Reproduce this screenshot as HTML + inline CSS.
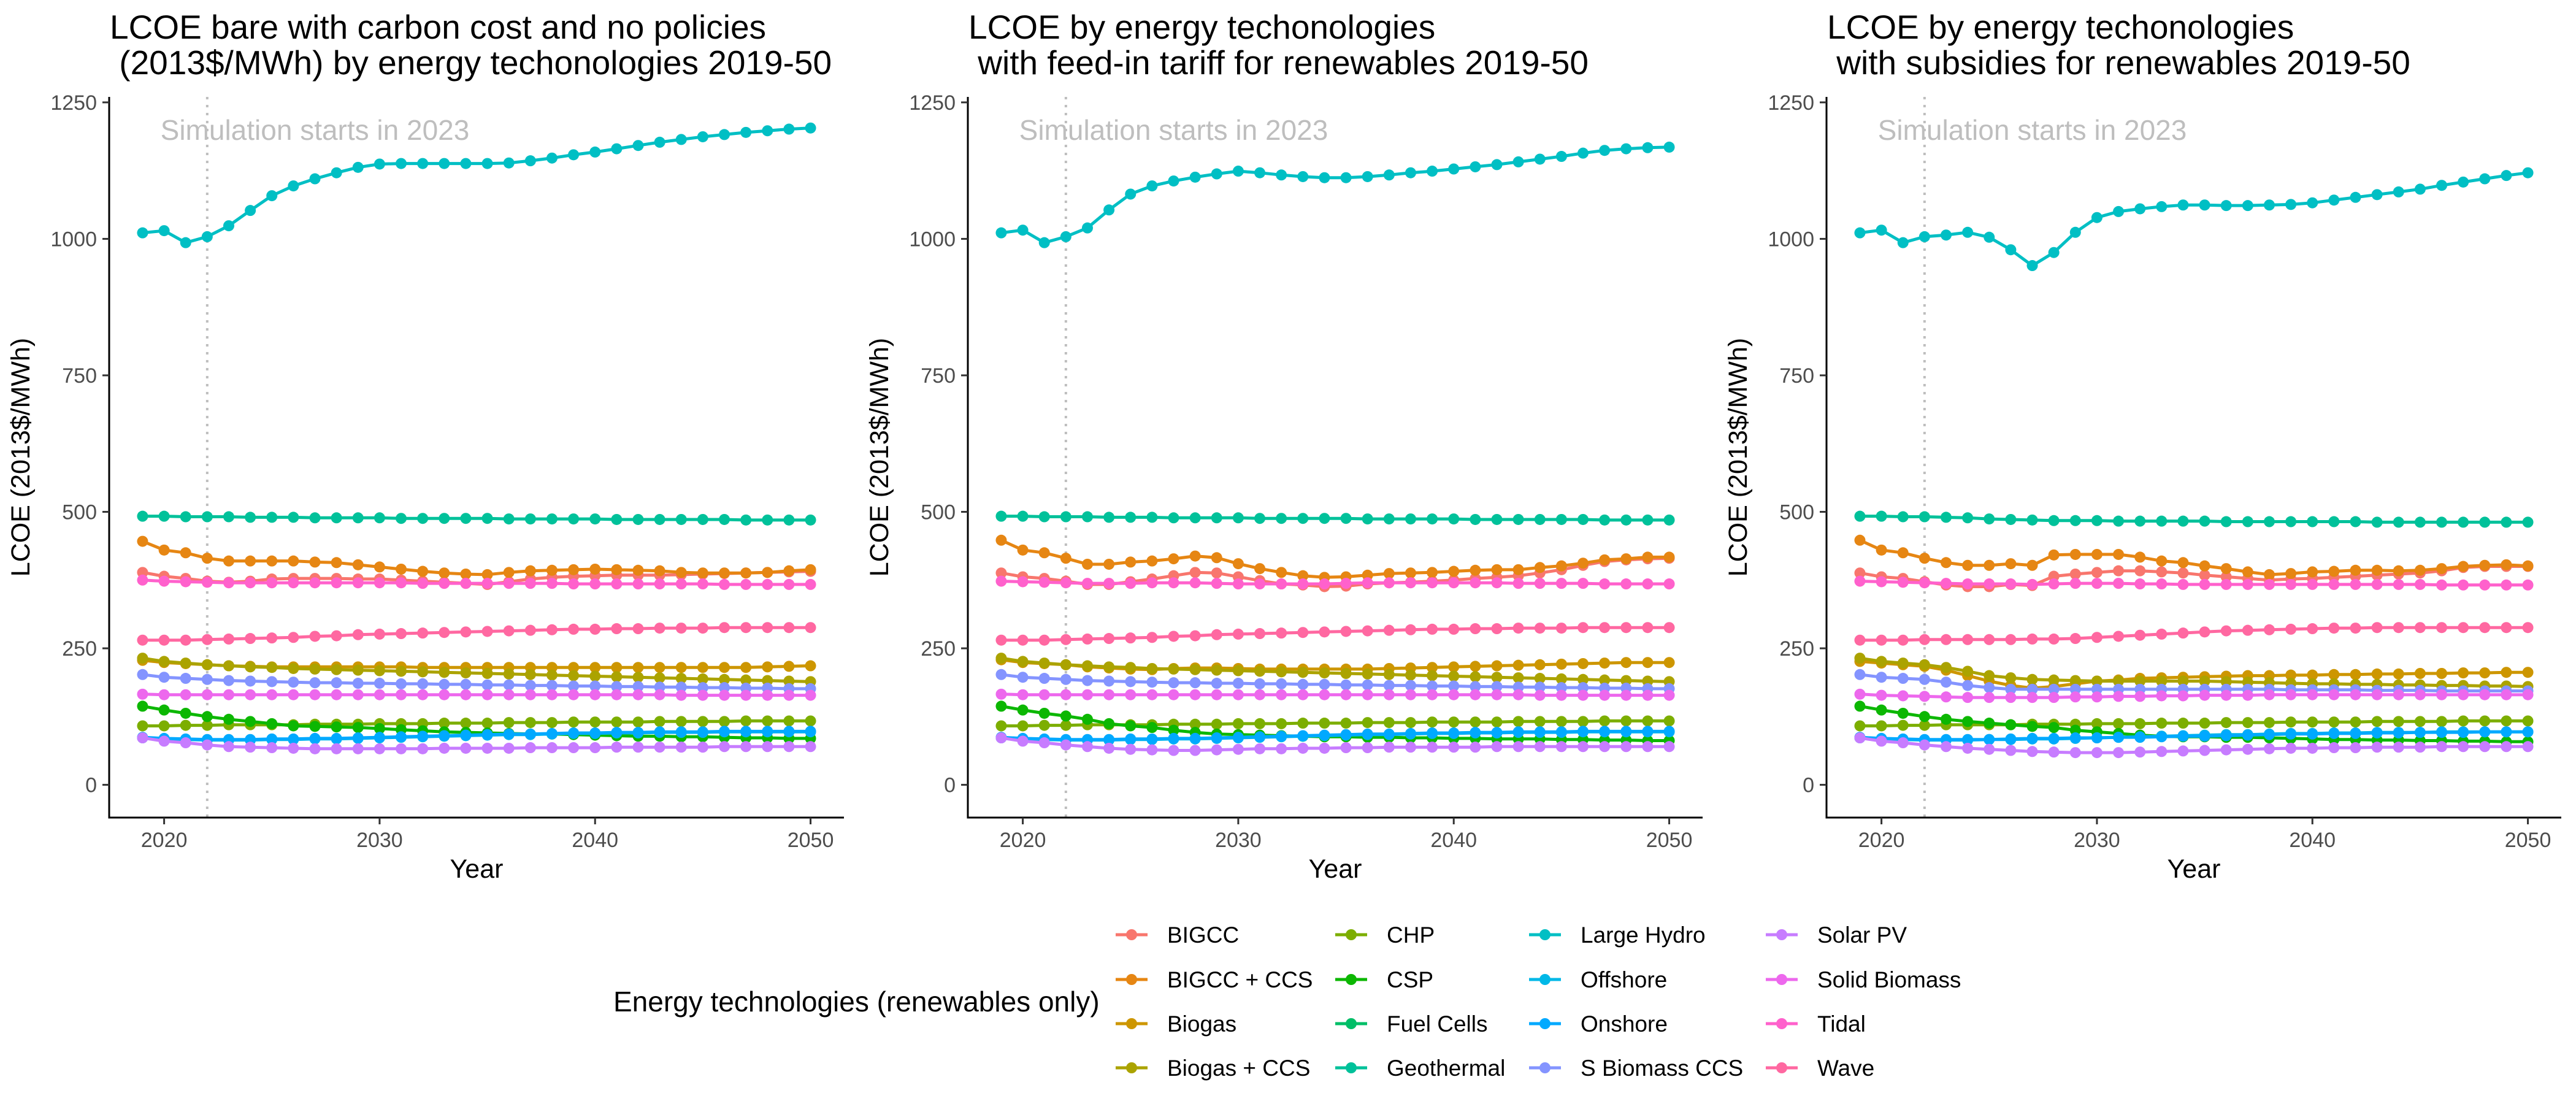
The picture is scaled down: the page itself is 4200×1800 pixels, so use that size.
<!DOCTYPE html>
<html><head><meta charset="utf-8">
<style>
html,body{margin:0;padding:0;background:#fff;}
svg{display:block;font-family:"Liberation Sans",Arial,sans-serif;}
</style></head>
<body>
<svg id="chart" width="4200" height="1800" viewBox="0 0 4200 1800" xmlns="http://www.w3.org/2000/svg"></svg>
<script>
const years = [];
for (let y = 2019; y <= 2050; y++) years.push(y);
const seriesNames = ["BIGCC","BIGCC + CCS","Biogas","Biogas + CCS","CHP","CSP","Fuel Cells","Geothermal","Large Hydro","Offshore","Onshore","S Biomass CCS","Solar PV","Solid Biomass","Tidal","Wave"];
const seriesColors = ["#F8766D","#E68613","#CD9600","#ABA300","#7CAE00","#0CB702","#00BE67","#00C19A","#00BFC4","#00B8E7","#00A9FF","#8494FF","#C77CFF","#ED68ED","#FF61CC","#FF68A1"];
const yTicks = [0,250,500,750,1000,1250];
const xTicks = [2020,2030,2040,2050];
const panelTitles = [
  ["LCOE bare with carbon cost and no policies"," (2013$/MWh) by energy techonologies 2019-50"],
  ["LCOE by energy techonologies"," with feed-in tariff for renewables 2019-50"],
  ["LCOE by energy techonologies"," with subsidies for renewables 2019-50"]
];
const geoP1 = [492,492,491,491,491,490,490,490,489,489,489,489,488,488,488,488,488,487,487,487,487,487,486,486,486,486,486,486,485,485,485,485];
const geoP3 = [492,492,491,491,490,489,487,486,485,484,484,484,483,483,483,483,483,482,482,482,482,482,482,482,481,481,481,481,481,481,481,481];
const waveP1 = [265,265,265,266,267,268,269,270,272,273,275,276,277,278,279,280,281,282,283,284,285,285,286,286,287,287,287,288,288,288,288,288];
const waveP3 = [265,265,265,266,266,266,266,266,267,267,268,270,272,274,276,278,280,282,283,284,285,286,287,287,288,288,288,288,288,288,288,288];
const tidalP1 = [375,373,372,371,370,370,370,370,370,370,370,370,370,369,369,369,369,369,369,369,368,368,368,368,368,368,368,367,367,367,367,367];
const tidalP2 = [373,372,371,370,369,369,369,370,370,370,369,368,368,368,368,368,369,370,370,370,370,370,370,370,369,369,369,369,368,368,368,368];
const tidalP3 = [373,372,371,370,369,368,368,368,367,368,369,369,369,368,368,367,367,367,367,367,367,367,367,367,367,367,367,366,366,366,366,366];
const chp = [108,108,109,109,110,110,110,110,111,111,111,112,112,112,113,113,113,114,114,114,115,115,115,115,116,116,116,116,117,117,117,117];
const onshore = [87,85,84,83,83,83,84,84,85,85,86,87,88,89,90,91,92,93,93,94,95,95,96,96,97,97,97,98,98,98,98,98];
const onshoreP3 = [87,85,84,83,83,83,83,84,85,85,86,86,87,87,88,89,89,90,91,92,93,93,94,94,95,95,96,96,96,97,97,97];
const offshore = [86,84,83,82,82,82,83,83,84,84,85,86,87,88,89,90,91,92,92,93,94,94,95,95,96,96,96,97,97,97,97,97];
const sbioP12 = [202,197,195,193,191,190,189,188,187,187,186,186,185,185,184,184,183,183,182,182,181,181,180,180,179,179,178,178,177,177,176,176];
const sbioP3 = [202,197,195,193,188,182,178,175,175,175,175,175,175,175,175,175,175,175,175,175,174,174,174,174,173,173,173,172,172,172,172,172];
const solidP1 = [166,165,165,165,165,165,165,165,165,165,165,165,165,165,165,165,165,165,165,165,165,165,165,165,165,164,164,164,164,164,164,164];
const solidP3 = [166,164,163,162,161,160,160,160,160,160,161,161,162,162,163,163,164,164,164,165,165,165,165,165,165,165,165,165,165,165,165,165];
const bccsP12 = [232,226,223,220,218,216,215,213,212,211,210,209,208,207,206,205,204,203,202,201,200,199,198,197,196,195,194,193,192,191,190,189];
const bccsP3 = [232,226,223,220,215,208,200,196,193,192,191,190,190,190,190,190,190,189,188,187,186,185,185,184,184,183,183,182,182,181,181,180];
const hydroP1 = [1011,1015,993,1004,1024,1052,1079,1097,1110,1121,1131,1137,1138,1138,1138,1138,1138,1139,1143,1148,1154,1159,1165,1171,1177,1182,1187,1191,1195,1198,1201,1203];
const hydroP2 = [1011,1016,993,1004,1020,1053,1082,1097,1106,1113,1119,1124,1121,1117,1114,1112,1112,1114,1117,1121,1124,1128,1132,1136,1141,1146,1151,1157,1162,1165,1167,1168];
const hydroP3 = [1011,1016,993,1004,1007,1012,1003,980,951,975,1012,1039,1050,1055,1059,1062,1062,1061,1061,1062,1063,1066,1071,1076,1081,1086,1091,1098,1104,1110,1116,1121];
const bigccsP1 = [446,430,425,415,410,410,410,410,408,407,403,399,395,391,388,386,385,389,392,393,394,395,394,393,392,389,388,388,388,389,392,394];
const bigccsP2 = [448,430,425,415,404,404,408,410,414,419,416,405,396,389,383,380,381,384,387,388,389,391,393,394,394,398,401,406,412,414,417,417];
const bigccsP3 = [448,430,425,415,407,402,402,405,402,421,422,422,422,417,410,407,401,396,390,385,387,390,391,393,393,392,393,396,400,402,403,401];
const bigccP1 = [389,382,378,373,371,373,377,378,378,378,377,377,375,373,371,369,367,372,377,380,382,383,384,384,384,385,386,387,388,389,390,391];
const bigccP2 = [388,381,378,373,367,367,372,377,383,389,388,381,374,368,366,363,364,368,370,371,373,375,378,380,383,388,394,402,409,412,414,415];
const bigccP3 = [388,381,378,372,366,363,363,367,365,382,386,389,392,392,390,388,384,381,378,375,377,378,380,382,384,386,388,392,398,400,400,400];
const biogasP1 = [228,224,222,220,218,217,216,216,216,216,216,216,216,215,215,215,215,215,215,215,215,215,215,215,215,215,215,215,215,216,217,218];
const biogasP2 = [229,224,222,220,216,214,212,211,213,214,214,213,212,212,212,212,212,212,213,214,215,216,217,218,219,220,221,222,223,224,224,224];
const biogasP3 = [226,223,220,217,210,200,190,182,177,180,185,190,192,195,196,197,198,199,200,200,201,201,202,202,203,203,204,204,205,205,206,206];
const cspP1 = [144,137,131,125,120,116,112,108,107,106,105,103,101,99,97,96,95,94,93,93,92,91,90,89,89,88,88,87,86,86,85,85];
const cspP2 = [144,137,131,126,120,112,108,105,100,96,93,92,91,90,89,88,88,87,87,86,86,85,85,84,84,84,83,83,82,82,81,81];
const cspP3 = [144,137,131,125,120,116,113,110,107,105,100,97,94,91,89,88,88,87,87,86,85,84,83,83,82,82,81,81,80,80,79,79];
const solarP1 = [86,80,77,73,70,69,68,67,66,66,66,66,66,66,67,67,67,67,68,68,68,68,69,69,69,69,69,70,70,70,70,70];
const solarP2 = [86,80,77,73,70,67,65,64,63,63,64,65,66,66,67,67,68,68,69,69,69,69,69,70,70,70,70,70,70,70,70,70];
const solarP3 = [86,80,77,73,70,67,65,63,61,60,59,59,59,60,61,62,63,64,65,66,67,67,68,68,69,69,69,70,70,70,70,70];

const panelData = [
  [bigccP1,bigccsP1,biogasP1,bccsP12,chp,cspP1,null,geoP1,hydroP1,offshore,onshore,sbioP12,solarP1,solidP1,tidalP1,waveP1],
  [bigccP2,bigccsP2,biogasP2,bccsP12,chp,cspP2,null,geoP1,hydroP2,offshore,onshore,sbioP12,solarP2,solidP1,tidalP2,waveP1],
  [bigccP3,bigccsP3,biogasP3,bccsP3,chp,cspP3,null,geoP3,hydroP3,offshore,onshoreP3,sbioP3,solarP3,solidP3,tidalP3,waveP3]
];

const NS = "http://www.w3.org/2000/svg";
const svg = document.getElementById("chart");
function mk(tag, attrs, parent) {
  const e = document.createElementNS(NS, tag);
  for (const k in attrs) e.setAttribute(k, attrs[k]);
  (parent || svg).appendChild(e);
  return e;
}
const X0 = 178, X1 = 1376, YTOP = 158, YBOT = 1333;
const xMin = 2017.45, xMax = 2051.55, yMin = -60, yMax = 1260;
const panelNames = ["no-policies","feed-in-tariff","subsidies"];

for (let p = 0; p < 3; p++) {
  const off = p * 1400;
  const xs = v => off + X0 + (v - xMin) / (xMax - xMin) * (X1 - X0);
  const ys = v => YBOT - (v - yMin) / (yMax - yMin) * (YBOT - YTOP);
  const g = mk("g", {});
  
  

  const t = mk("text", {x: off + 179, y: 63, "font-size": 55, fill: "#000"}, g);
  
  
  t.style.whiteSpace = 'pre';
  const t1 = mk("tspan", {x: off + 179, y: 63}, t); t1.textContent = panelTitles[p][0];
  const t2 = mk("tspan", {x: off + 179, y: 121}, t); t2.textContent = panelTitles[p][1];

  const vl = mk("line", {x1: xs(2022), x2: xs(2022), y1: YTOP, y2: YBOT, stroke: "#BEBEBE", "stroke-width": 4, "stroke-dasharray": "4 9"}, g);
  
  
  const ann = mk("text", {x: xs(2027), y: 228, "font-size": 46, fill: "#BEBEBE", "text-anchor": "middle"}, g);
  
  
  ann.textContent = "Simulation starts in 2023";

  const data = panelData[p];
  for (let s = 0; s < seriesNames.length; s++) {
    const vals = data[s];
    if (!vals) continue;
    const sg = mk("g", {}, g);
    
    
    const pts = vals.map((v, i) => xs(years[i]).toFixed(1) + "," + ys(v).toFixed(1)).join(" ");
    const pl = mk("polyline", {points: pts, fill: "none", stroke: seriesColors[s], "stroke-width": 5, "stroke-linejoin": "round"}, sg);
    
    
    vals.forEach((v, i) => {
      const c = mk("circle", {cx: xs(years[i]), cy: ys(v), r: 9, fill: seriesColors[s]}, sg);
      
      
    });
  }

  const ya = mk("line", {x1: off + X0, x2: off + X0, y1: YTOP, y2: YBOT + 1.5, stroke: "#000", "stroke-width": 3}, g);
  
  
  const xa = mk("line", {x1: off + X0 - 1.5, x2: off + X1, y1: YBOT, y2: YBOT, stroke: "#000", "stroke-width": 3}, g);
  
  
  yTicks.forEach(v => {
    const tk = mk("line", {x1: off + X0 - 11, x2: off + X0, y1: ys(v), y2: ys(v), stroke: "#333", "stroke-width": 3}, g);
    
    
    const tl = mk("text", {x: off + X0 - 20, y: ys(v) + 12, "font-size": 34, fill: "#4D4D4D", "text-anchor": "end"}, g);
    
    
    tl.textContent = v;
  });
  xTicks.forEach(v => {
    const tk = mk("line", {x1: xs(v), x2: xs(v), y1: YBOT, y2: YBOT + 11, stroke: "#333", "stroke-width": 3}, g);
    
    
    const tl = mk("text", {x: xs(v), y: 1381, "font-size": 34, fill: "#4D4D4D", "text-anchor": "middle"}, g);
    
    
    tl.textContent = v;
  });
  const xt = mk("text", {x: off + (X0 + X1) / 2, y: 1431, "font-size": 43, fill: "#000", "text-anchor": "middle"}, g);
  
  
  xt.textContent = "Year";
  const yt = mk("text", {x: 0, y: 0, "font-size": 43, fill: "#000", "text-anchor": "middle", transform: "translate(" + (off + 48) + "," + ((YTOP + YBOT) / 2) + ") rotate(-90)"}, g);
  
  
  yt.textContent = "LCOE (2013$/MWh)";
}

const lg = mk("g", {});


const lt = mk("text", {x: 1000, y: 1649, "font-size": 46, fill: "#000"}, lg);


lt.textContent = "Energy technologies (renewables only)";
const keyX = [1845, 2203, 2519, 2905];
const rowY = [1524, 1597, 1669, 1741];
seriesNames.forEach((n, i) => {
  const col = Math.floor(i / 4), row = i % 4;
  const eg = mk("g", {}, lg);
  
  
  const kl = mk("line", {x1: keyX[col] - 26, x2: keyX[col] + 26, y1: rowY[row], y2: rowY[row], stroke: seriesColors[i], "stroke-width": 5}, eg);
  
  
  const kc = mk("circle", {cx: keyX[col], cy: rowY[row], r: 9, fill: seriesColors[i]}, eg);
  
  
  const tx = mk("text", {x: keyX[col] + 58, y: rowY[row] + 13, "font-size": 37, fill: "#000"}, eg);
  
  
  tx.textContent = n;
});
</script>
</body></html>
